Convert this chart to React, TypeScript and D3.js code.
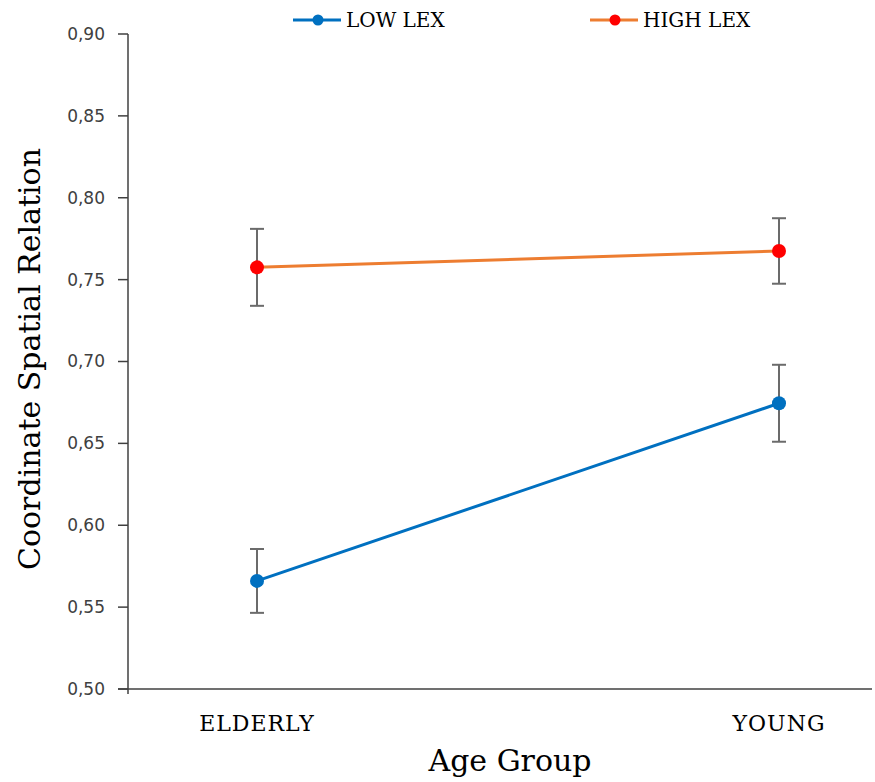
import React from "react";
import * as d3 from "d3";

const categories = ["ELDERLY", "YOUNG"];
const lowLex = [0.566, 0.6745];
const lowErr = [0.0195, 0.0235];
const highLex = [0.7575, 0.7675];
const highErr = [0.0235, 0.0200];
const yTicks = [0.5, 0.55, 0.6, 0.65, 0.7, 0.75, 0.8, 0.85, 0.9];

const W = 875, H = 782;
const axisX = 128, axisRight = 872, yTop = 34, yBottom = 689;

export default function App() {
  const y = d3.scaleLinear().domain([0.5, 0.9]).range([yBottom, yTop]);
  const x = d3.scaleOrdinal<string, number>().domain(categories).range([257, 779]);
  const fmt = (v: number) => v.toFixed(2).replace(".", ",");
  const line = d3.line<[number, number]>().x(d => d[0]).y(d => d[1]);

  const series = [
    { name: "LOW LEX", vals: lowLex, errs: lowErr, lineColor: "#0070C0", dotColor: "#0070C0", lx: 293 },
    { name: "HIGH LEX", vals: highLex, errs: highErr, lineColor: "#ED7D31", dotColor: "#FF0000", lx: 590 },
  ];

  return (
    <svg width={W} height={H} style={{ position: "absolute", left: 0, top: 0, background: "#fff" }}>
      {/* y axis */}
      <line x1={axisX} x2={axisX} y1={yTop} y2={yBottom + 5} stroke="#404040" strokeWidth={1.5} />
      {yTicks.map(t => (
        <g key={t}>
          <line x1={axisX - 10} x2={axisX} y1={y(t)} y2={y(t)} stroke="#404040" strokeWidth={1.5} />
          <text x={axisX - 23} y={y(t)} dy="0.35em" textAnchor="end" fontFamily="DejaVu Sans" fontSize={17} fill="#404040">{fmt(t)}</text>
        </g>
      ))}
      {/* x axis */}
      <line x1={axisX - 10} x2={axisRight} y1={yBottom} y2={yBottom} stroke="#404040" strokeWidth={1.5} />
      {categories.map(c => (
        <text key={c} x={x(c)} y={731} textAnchor="middle" fontFamily="DejaVu Serif" fontSize={22} letterSpacing={1} fill="#000">{c}</text>
      ))}
      <text x={510} y={771} textAnchor="middle" fontFamily="DejaVu Serif" fontSize={30} fill="#000">Age Group</text>
      <text transform={`translate(40,${359}) rotate(-90)`} textAnchor="middle" fontFamily="DejaVu Serif" fontSize={30} fill="#000">Coordinate  Spatial Relation</text>

      {series.map(s => {
        const pts: [number, number][] = categories.map((c, i) => [x(c), y(s.vals[i])]);
        return (
          <g key={s.name}>
            <path d={line(pts) || ""} fill="none" stroke={s.lineColor} strokeWidth={3} />
            {categories.map((c, i) => (
              <g key={c} stroke="#6b6b6b" strokeWidth={2}>
                <line x1={x(c)} x2={x(c)} y1={y(s.vals[i] + s.errs[i])} y2={y(s.vals[i] - s.errs[i])} />
                <line x1={x(c) - 7} x2={x(c) + 7} y1={y(s.vals[i] + s.errs[i])} y2={y(s.vals[i] + s.errs[i])} />
                <line x1={x(c) - 7} x2={x(c) + 7} y1={y(s.vals[i] - s.errs[i])} y2={y(s.vals[i] - s.errs[i])} />
              </g>
            ))}
            {pts.map((p, i) => (
              <circle key={i} cx={p[0]} cy={p[1]} r={7} fill={s.dotColor} />
            ))}
            <line x1={s.lx} x2={s.lx + 48} y1={20} y2={20} stroke={s.lineColor} strokeWidth={3} />
            <circle cx={s.lx + 25} cy={20} r={5.5} fill={s.dotColor} />
            <text x={s.lx + 53} y={20} dy="0.35em" fontFamily="DejaVu Serif" fontSize={20} fill="#000">{s.name}</text>
          </g>
        );
      })}
    </svg>
  );
}
